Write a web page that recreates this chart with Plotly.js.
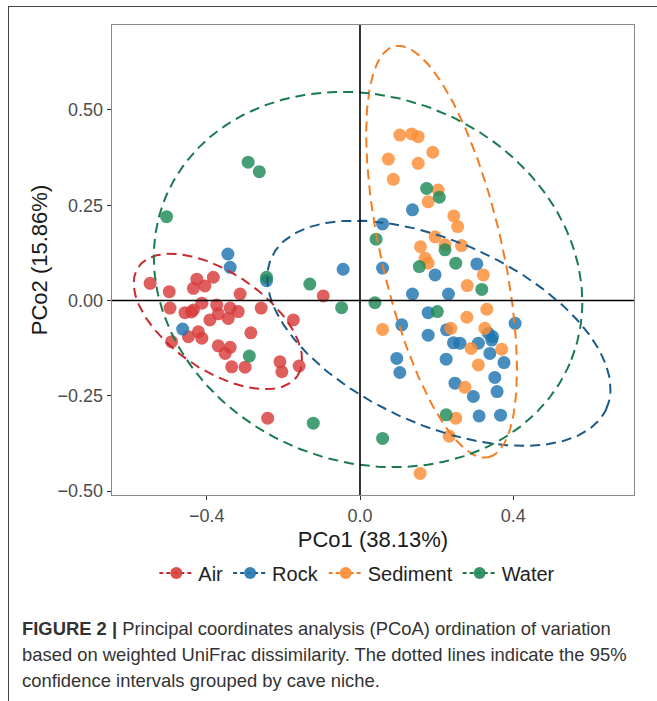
<!DOCTYPE html>
<html>
<head>
<meta charset="utf-8">
<script src="https://cdn.plot.ly/plotly-3.0.1.min.js"></script>
<style>
  html, body { margin: 0; padding: 0; background: #fff; }
  #chart { width: 657px; height: 701px; }
  #frame { position: absolute; left: 8px; top: 6px; width: 700px; height: 720px;
           border-left: 1px solid #444; border-top: 1px solid #444; pointer-events: none; }
</style>
</head>
<body>
<div id="chart"></div>
<div id="frame"></div>
<script>
// ---- Data ----
const groups = ["Air", "Rock", "Sediment", "Water"];

const airX = [-0.548, -0.498, -0.426, -0.383, -0.405, -0.435, -0.313, -0.496, -0.457, -0.435,
              -0.413, -0.374, -0.392, -0.370, -0.344, -0.339, -0.318, -0.258, -0.174, -0.492,
              -0.448, -0.422, -0.413, -0.285, -0.370, -0.339, -0.352, -0.335, -0.300, -0.209,
              -0.204, -0.159, -0.241, -0.096, -0.440];
const airY = [0.045, 0.023, 0.056, 0.061, 0.038, 0.032, 0.017, -0.020, -0.032, -0.025,
              -0.007, -0.012, -0.051, -0.035, -0.047, -0.020, -0.029, -0.020, -0.051, -0.108,
              -0.095, -0.082, -0.099, -0.085, -0.119, -0.123, -0.139, -0.174, -0.175, -0.161,
              -0.187, -0.172, -0.309, 0.012, -0.030];

const rockX = [-0.345, -0.339, -0.244, -0.463, -0.044, 0.137, 0.059, 0.059, 0.196, 0.305,
               0.137, 0.231, 0.178, 0.109, 0.405, 0.178, 0.226, 0.244, 0.261, 0.309,
               0.335, 0.344, 0.339, 0.096, 0.104, 0.225, 0.376, 0.352, 0.248, 0.358,
               0.296, 0.311, 0.367, 0.346];
const rockY = [0.122, 0.087, 0.052, -0.075, 0.082, 0.238, 0.201, 0.085, 0.067, 0.096,
               0.017, 0.017, -0.032, -0.064, -0.060, -0.091, -0.077, -0.111, -0.112, -0.112,
               -0.086, -0.104, -0.139, -0.152, -0.189, -0.154, -0.163, -0.202, -0.217, -0.239,
               -0.252, -0.303, -0.301, -0.095];

const sedX = [0.104, 0.135, 0.152, 0.190, 0.074, 0.152, 0.087, 0.204, 0.178, 0.245,
              0.255, 0.196, 0.158, 0.170, 0.178, 0.265, 0.222, 0.322, 0.280, 0.059,
              0.279, 0.331, 0.237, 0.326, 0.290, 0.370, 0.309, 0.274, 0.250, 0.233,
              0.157];
const sedY = [0.434, 0.437, 0.430, 0.389, 0.371, 0.360, 0.318, 0.290, 0.259, 0.222,
              0.194, 0.167, 0.141, 0.111, 0.098, 0.144, 0.146, 0.067, 0.039, -0.076,
              -0.044, -0.023, -0.073, -0.073, -0.126, -0.128, -0.169, -0.228, -0.309, -0.356,
              -0.454];

const waterX = [-0.505, -0.292, -0.263, -0.244, -0.131, -0.289, -0.122, -0.048, 0.042, 0.174,
                0.207, 0.222, 0.155, 0.250, 0.318, 0.039, 0.202, 0.225, 0.059];
const waterY = [0.220, 0.363, 0.338, 0.061, 0.043, -0.146, -0.322, -0.019, 0.161, 0.294,
                0.271, 0.133, 0.089, 0.098, 0.029, -0.006, -0.029, -0.300, -0.362];

// 95% ellipses (center, semi-axes, rotation in degrees)
const ellCx    = [-0.371, 0.206, 0.213, 0.021];
const ellCy    = [-0.055, -0.086, 0.128, 0.055];
const ellA     = [0.252, 0.480, 0.553, 0.571];
const ellB     = [0.128, 0.240, 0.158, 0.479];
const ellAngle = [-34.6, -24.5, -77.2, -21.6];

const xTickVals = [-0.4, 0.0, 0.4];
const xTickText = ["\u22120.4", "0.0", "0.4"];
const yTickVals = [0.5, 0.25, 0, -0.25, -0.5];
const yTickText = ["0.50", "0.25", "0.00", "\u22120.25", "\u22120.50"];

// ---- Styling ----
const pointColors = ["#d73c3a", "#1f74b0", "#fb8c32", "#1f8a57"];
const lineColors  = ["#c62a2f", "#1b5a88", "#f47c22", "#1b7a4d"];
const FONT = "Liberation Sans, Arial, sans-serif";
const CAPFONT = { family: FONT, size: 18.4, color: "#333" };

const xs = [airX, rockX, sedX, waterX];
const ys = [airY, rockY, sedY, waterY];

const traces = [];
groups.forEach((g, i) => {
  traces.push({
    type: "scatter", mode: "markers", name: g, x: xs[i], y: ys[i],
    marker: { color: pointColors[i], size: 13, opacity: 0.82, line: { width: 0 } },
    showlegend: false, hoverinfo: "x+y+name"
  });
});
groups.forEach((g, i) => {
  const n = 240, ex = [], ey = [];
  const th = ellAngle[i] * Math.PI / 180;
  for (let k = 0; k <= n; k++) {
    const t = 2 * Math.PI * k / n;
    const u = ellA[i] * Math.cos(t), v = ellB[i] * Math.sin(t);
    ex.push(ellCx[i] + u * Math.cos(th) - v * Math.sin(th));
    ey.push(ellCy[i] + u * Math.sin(th) + v * Math.cos(th));
  }
  traces.push({
    type: "scatter", mode: "lines", name: g, x: ex, y: ey,
    line: { color: lineColors[i], width: 2, dash: "10px,6px" },
    showlegend: false, hoverinfo: "skip"
  });
});
groups.forEach((g, i) => {
  traces.push({
    type: "scatter", mode: "lines+markers", name: g, x: [null], y: [null],
    line: { color: lineColors[i], width: 2, dash: "4px,3px" },
    marker: { color: pointColors[i], size: 12, opacity: 0.9 },
    showlegend: true
  });
});

const layout = {
  width: 657, height: 701,
  paper_bgcolor: "#ffffff", plot_bgcolor: "#ffffff",
  margin: { l: 112, r: 23, t: 25, b: 206 },
  font: { family: FONT, color: "#222" },
  showlegend: true,
  xaxis: {
    range: [-0.6475, 0.7154], autorange: false,
    tickvals: xTickVals, ticktext: xTickText,
    ticks: "outside", ticklen: 4, tickwidth: 1, tickcolor: "#333",
    tickfont: { family: FONT, size: 18, color: "#4d4d4d" },
    showgrid: false, zeroline: false,
    showline: true, mirror: true, linecolor: "#8a8a8a", linewidth: 1.3,
    title: { text: "PCo1 (38.13%)", font: { family: FONT, size: 22, color: "#1a1a1a" }, standoff: 6 }
  },
  yaxis: {
    range: [-0.5105, 0.723], autorange: false,
    tickvals: yTickVals, ticktext: yTickText,
    ticks: "outside", ticklen: 4, tickwidth: 1, tickcolor: "#333",
    tickfont: { family: FONT, size: 18, color: "#4d4d4d" },
    showgrid: false, zeroline: false,
    showline: true, mirror: true, linecolor: "#8a8a8a", linewidth: 1.3,
    title: { text: "PCo2 (15.86%)", font: { family: FONT, size: 22, color: "#1a1a1a" }, standoff: 4 }
  },
  legend: {
    orientation: "h", x: 0.47, xanchor: "center", y: -0.166, yanchor: "middle",
    font: { family: FONT, size: 20, color: "#222" },
    itemwidth: 34, tracegroupgap: 0, bgcolor: "rgba(0,0,0,0)"
  },
  shapes: [
    { type: "line", xref: "paper", yref: "y", x0: 0, x1: 1, y0: 0, y1: 0,
      line: { color: "#000", width: 1.6 }, layer: "above" },
    { type: "line", xref: "x", yref: "paper", x0: 0, x1: 0, y0: 0, y1: 1,
      line: { color: "#000", width: 1.6 }, layer: "above" }
  ],
  annotations: [
    { xref: "paper", yref: "paper", x: -0.176, y: -0.283, xanchor: "left", yanchor: "middle",
      showarrow: false, align: "left", font: CAPFONT,
      text: "<b>FIGURE 2 |</b> Principal coordinates analysis (PCoA) ordination of variation" },
    { xref: "paper", yref: "paper", x: -0.176, y: -0.340, xanchor: "left", yanchor: "middle",
      showarrow: false, align: "left", font: CAPFONT,
      text: "based on weighted UniFrac dissimilarity. The dotted lines indicate the 95%" },
    { xref: "paper", yref: "paper", x: -0.176, y: -0.394, xanchor: "left", yanchor: "middle",
      showarrow: false, align: "left", font: CAPFONT,
      text: "confidence intervals grouped by cave niche." }
  ]
};

Plotly.newPlot("chart", traces, layout, { displayModeBar: false, staticPlot: true });
</script>
</body>
</html>
